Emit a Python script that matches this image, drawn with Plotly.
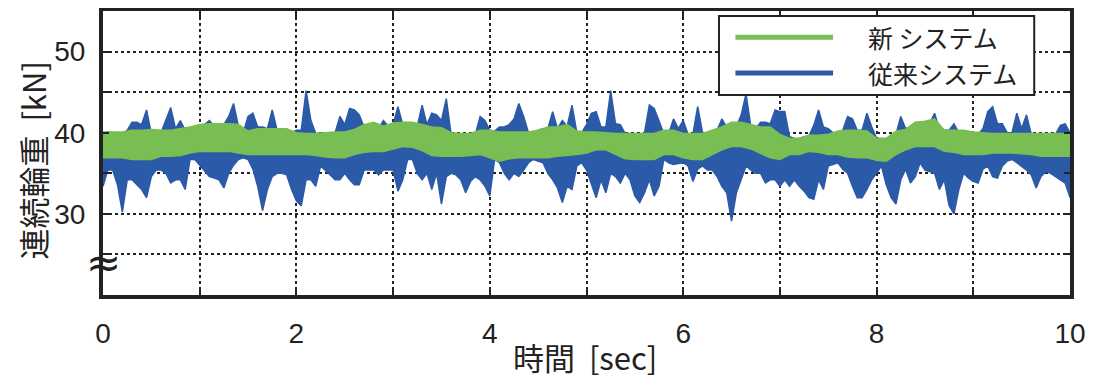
import plotly.graph_objects as go

# ---- data (envelopes) ----
t_blue = [round(i * 0.05, 2) for i in range(201)]
blue_hi = [
    40.0, 40.1, 40.0, 39.8, 39.8, 40.3, 41.3, 41.3, 41.0, 42.8, 39.9, 39.8, 40.0, 41.5, 43.1, 40.5, 41.5, 40.3, 40.5, 40.5,
    40.5, 41.0, 41.5, 40.8, 40.8, 41.0, 42.0, 43.6, 40.8,
    40.0, 42.0, 42.4, 40.7, 40.7, 40.5, 42.8, 40.3, 40.3, 40.3, 40.0, 40.3, 40.3, 45.2, 41.5, 39.9, 39.9, 39.9, 39.9, 40.0,
    42.0, 41.0, 43.0, 42.8, 42.2, 40.7, 40.7, 40.5, 40.5,
    41.5, 40.8, 41.0, 43.2, 41.0, 41.0, 41.0, 40.8, 43.4, 41.0, 42.4, 42.2, 41.5, 44.2, 39.8, 39.8, 39.8, 39.8, 39.8,
    39.8, 42.0, 41.5, 40.3, 40.2, 40.7, 40.7, 41.0, 41.7, 43.6,
    42.0, 40.0, 40.0, 40.3, 40.5, 40.5, 42.6, 40.5, 41.5, 40.8, 43.4, 40.0, 40.0, 41.0, 42.4, 42.6, 40.7, 40.7, 45.2,
    41.1, 41.0, 39.9, 39.9, 39.8, 39.8, 40.0, 43.4, 43.0, 41.5,
    39.9, 39.9, 41.7, 40.5, 41.5, 39.8, 39.8, 43.2, 40.0, 39.9, 40.0, 40.3, 41.7, 40.7, 40.7, 40.7, 42.2, 44.8, 40.7,
    40.5, 41.3, 41.3, 41.1, 42.8, 42.6, 42.6, 39.5, 39.3, 39.3,
    39.5, 39.6, 40.9, 42.8, 40.7, 40.5, 40.0, 40.0, 40.3, 42.0, 41.7, 40.3, 40.3, 42.4, 40.7, 39.3, 39.3, 39.3, 39.5,
    39.8, 42.0, 40.5, 40.7, 40.9, 40.9, 41.0, 41.2, 42.4,
    40.3, 40.3, 40.3, 41.1, 40.0, 39.7, 39.7, 39.7, 39.8, 40.5, 42.6, 43.2, 41.1, 41.1, 40.0, 40.0, 42.4, 40.5, 42.2,
    39.8, 39.8, 39.8, 39.8, 39.8, 39.8, 40.9, 41.1, 40.0,
]
blue_lo = [
    33.4, 35.4, 35.4, 33.6, 30.2, 34.2, 34.2, 33.6, 33.0, 32.0, 34.6, 35.4, 35.4, 35.0, 33.8, 34.2, 34.2, 33.0, 36.7, 36.7,
    36.0, 35.4, 34.6, 34.4, 34.2, 33.2, 35.0, 36.0, 36.7,
    36.9, 36.7, 35.5, 33.4, 30.4, 33.0, 34.6, 35.0, 35.0, 34.8, 33.0, 31.6, 31.0, 34.2, 34.2, 33.4, 35.9, 35.4, 34.8, 34.2,
    34.2, 35.0, 34.2, 33.6, 33.6, 35.4, 35.4, 35.4, 34.8,
    35.4, 35.4, 35.4, 32.8, 34.2, 36.7, 36.7, 35.0, 34.2, 35.0, 33.0, 35.0, 31.2, 34.6, 35.0, 34.8, 34.2, 32.6, 34.0,
    34.6, 34.2, 33.4, 32.2, 36.7, 36.3, 35.0, 34.2, 35.0, 34.6,
    35.4, 36.3, 36.7, 36.5, 36.3, 35.0, 34.2, 33.2, 31.4, 33.4, 33.0, 35.9, 36.3, 35.4, 33.6, 32.0, 34.2, 32.6, 35.0,
    34.6, 33.8, 35.0, 34.2, 32.2, 31.4, 32.6, 34.2, 32.2, 33.4,
    36.7, 36.3, 36.1, 36.2, 36.3, 35.9, 34.0, 35.5, 35.9, 35.4, 35.4, 34.6, 33.4, 32.6, 29.1, 32.6, 34.2, 35.9, 35.4,
    35.0, 35.0, 33.8, 34.2, 34.2, 33.4, 34.2, 33.4, 34.2, 33.4,
    32.8, 32.0, 31.8, 34.2, 33.0, 35.9, 36.1, 36.3, 35.5, 35.0, 33.4, 32.0, 32.0, 33.0, 34.2, 35.0, 35.9, 33.6, 32.0,
    31.2, 34.2, 35.5, 33.8, 34.6, 36.3, 35.4, 35.2, 35.0,
    33.0, 34.2, 31.0, 30.0, 33.0, 35.0, 34.4, 34.0, 33.8, 35.5, 35.9, 34.6, 34.4, 35.9, 36.5, 36.7, 36.3, 35.9, 35.4,
    34.8, 33.2, 34.6, 35.2, 35.0, 34.6, 34.2, 33.8, 32.0,
]

t_green = [round(i * 0.1, 1) for i in range(101)]
green_hi = [
    40.1, 40.1, 40.1, 40.3, 40.3, 40.4, 40.3, 40.3, 40.5, 40.7, 41.0, 41.1, 41.1, 41.1, 41.0,
    40.2, 40.5, 40.5, 40.5, 40.5, 40.0, 39.9, 39.9, 40.0, 40.1, 40.1, 40.4, 41.0, 41.3,
    40.8, 41.2, 41.3, 41.3, 41.0, 40.7, 40.6, 40.0, 39.9, 39.9, 40.3, 40.3, 40.1, 40.1, 40.1,
    40.1, 40.3, 40.7, 40.7, 41.0, 40.2, 40.1, 40.1, 40.0, 39.9, 39.9, 39.9, 39.9, 39.9,
    40.3, 40.3, 39.9, 39.9, 39.9, 40.3, 40.7, 41.3, 41.3, 41.0, 40.7, 40.7, 39.8, 39.3, 39.3,
    39.7, 39.7, 39.8, 40.2, 40.3, 40.3, 40.2, 39.3, 39.3, 40.2, 40.4, 41.3, 41.4, 41.7,
    40.3, 40.3, 40.3, 40.1, 40.0, 39.9, 39.9, 39.9, 39.9, 39.9, 39.9, 39.9, 39.9, 39.9,
]
green_lo = [
    36.9, 36.9, 36.9, 36.7, 36.7, 36.7, 37.1, 37.1, 37.2, 37.5, 37.7, 37.7, 37.7, 37.7, 37.5,
    37.3, 37.3, 37.3, 37.3, 37.3, 37.3, 37.3, 37.2, 37.0, 36.9, 36.9, 37.3, 37.6, 37.7,
    37.7, 38.0, 38.3, 38.2, 37.8, 37.2, 37.1, 37.1, 37.1, 37.2, 37.3, 36.9, 36.5, 36.8, 36.9,
    36.9, 36.9, 36.9, 37.1, 37.2, 37.3, 37.5, 37.9, 37.9, 37.3, 36.8, 36.7, 36.7, 36.7,
    37.3, 37.3, 36.9, 36.7, 36.7, 37.3, 37.9, 38.3, 38.3, 38.0, 37.5, 36.9, 36.7, 37.3, 37.3,
    37.7, 37.6, 37.3, 37.3, 37.0, 36.9, 36.9, 36.6, 36.5, 37.3, 37.9, 38.3, 38.3, 38.3,
    37.7, 37.6, 37.3, 37.3, 37.3, 37.5, 37.5, 37.5, 37.4, 37.3, 37.1, 37.1, 37.1, 37.1,
]

series_names = ["新 システム", "従来システム"]
x_tickvals = list(range(0, 11))
x_ticktext = ["0", "", "2", "", "4", "", "6", "", "8", "", "10"]
y_tickvals = [25, 30, 35, 40, 45, 50]
y_ticktext = ["", "30", "", "40", "", "50"]

GREEN = "#78BE52"
BLUE = "#2B5AA8"
FONT = "Liberation Sans, Noto Sans CJK JP, sans-serif"
JFONT = "Noto Sans CJK JP, Liberation Sans, sans-serif"

fig = go.Figure()
fig.add_trace(go.Scatter(x=t_blue, y=blue_lo, mode="lines", line=dict(color=BLUE, width=1.5),
                         showlegend=False, hoverinfo="skip"))
fig.add_trace(go.Scatter(x=t_blue, y=blue_hi, mode="lines", line=dict(color=BLUE, width=1.5),
                         fill="tonexty", fillcolor=BLUE, name=series_names[1], showlegend=False))
fig.add_trace(go.Scatter(x=t_green, y=green_lo, mode="lines", line=dict(color=GREEN, width=1.5),
                         showlegend=False, hoverinfo="skip"))
fig.add_trace(go.Scatter(x=t_green, y=green_hi, mode="lines", line=dict(color=GREEN, width=1.5),
                         fill="tonexty", fillcolor=GREEN, name=series_names[0], showlegend=False))

axis_common = dict(
    showline=True, linecolor="#222", linewidth=4, mirror="ticks",
    ticks="inside", ticklen=6, tickwidth=2, tickcolor="#222",
    showgrid=True, gridcolor="#222", gridwidth=2, griddash="dot",
    zeroline=False, automargin=False, tickfont=dict(family=FONT, size=28, color="#222"),
)

# page body has an 8px default margin: shrink figure and margins to compensate
fig.update_layout(
    width=1086, height=370,
    margin=dict(l=95, r=24, t=3, b=83, autoexpand=False),
    paper_bgcolor="white", plot_bgcolor="white",
    xaxis=dict(range=[0, 10], tickvals=x_tickvals, ticktext=x_ticktext, ticklabelstandoff=10, **axis_common),
    yaxis=dict(range=[20, 55], tickvals=y_tickvals, ticktext=y_ticktext, ticklabelstandoff=8, **axis_common),
    showlegend=False,
)

# axis titles
fig.add_annotation(text="時間  [sec]", xref="paper", yref="paper", x=0.498, y=-0.215,
                   xanchor="center", yanchor="middle", showarrow=False,
                   font=dict(family=JFONT, size=31, color="#222"))
fig.add_annotation(text="連続輪重  [kN]", xref="paper", yref="paper", x=-0.073, y=0.475,
                   xanchor="center", yanchor="middle", textangle=-90, showarrow=False,
                   font=dict(family=JFONT, size=31, color="#222"))
# axis break mark
fig.add_annotation(text="≈", xref="paper", yref="y", x=0.0, y=24.0, xanchor="center", yanchor="middle",
                   showarrow=False, font=dict(family="DejaVu Sans", size=42, color="#222"))

# manual legend
lx0, lx1, ly0, ly1 = 0.637, 0.963, 0.704, 0.982
fig.add_shape(type="rect", xref="paper", yref="paper", x0=lx0, x1=lx1, y0=ly0, y1=ly1,
              line=dict(color="#222", width=2), fillcolor="white", layer="above")
for name, col, yy in [(series_names[0], GREEN, 0.908), (series_names[1], BLUE, 0.782)]:
    fig.add_shape(type="line", xref="paper", yref="paper", x0=0.654, x1=0.755, y0=yy, y1=yy,
                  line=dict(color=col, width=5), layer="above")
    fig.add_annotation(text=name, xref="paper", yref="paper", x=0.789, y=yy,
                       xanchor="left", yanchor="middle",
                       showarrow=False, font=dict(family=JFONT, size=25, color="#222"))

fig.write_html("out.html")
